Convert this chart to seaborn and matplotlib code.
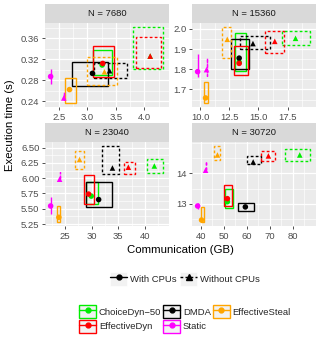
import numpy as np
import pandas as pd
import matplotlib
matplotlib.use("Agg")
import matplotlib.pyplot as plt
import seaborn as sns
from matplotlib.patches import Rectangle
from matplotlib.lines import Line2D
from matplotlib.ticker import AutoMinorLocator
from matplotlib.legend_handler import HandlerTuple

n_procs = [7680, 15360, 23040, 30720]
schedulers = ["ChoiceDyn−50", "DMDA", "EffectiveDyn", "EffectiveSteal", "Static"]
modes = ["With CPUs", "Without CPUs"]

# order per panel: each scheduler, with then without CPUs
comm = [3.26, 4.10, 3.09, 3.39, 3.27, 4.10, 2.69, 3.30, 2.36, 2.59,
        13.35, 18.18, 13.35, 14.53, 13.35, 16.4, 10.47, 12.33, 9.79, 10.55,
        29.9, 41.8, 31.3, 33.9, 29.4, 36.9, 23.8, 27.7, 22.25, 23.94,
        51.6, 83.0, 59.4, 62.8, 51.6, 69.4, 40.4, 47.3, 38.7, 42.15]
comm_lo = [3.10, 3.80, 2.73, 3.11, 3.10, 3.86, 2.61, 2.99, 2.36, 2.59,
           13.0, 16.99, 12.67, 13.43, 12.92, 15.55, 10.3, 11.9, 9.79, 10.55,
           29.0, 40.4, 28.9, 31.9, 28.6, 36.1, 23.5, 26.8, 22.25, 23.94,
           50.7, 76.5, 56.3, 60.0, 50.0, 66.3, 40.0, 46.0, 38.7, 42.15]
comm_hi = [3.44, 4.33, 3.36, 3.69, 3.46, 4.29, 2.80, 3.52, 2.36, 2.59,
           13.94, 19.45, 14.2, 15.97, 14.11, 17.16, 10.64, 12.67, 9.79, 10.55,
           31.2, 43.5, 33.9, 35.1, 30.4, 38.2, 24.1, 28.5, 22.25, 23.94,
           53.9, 87.6, 63.2, 66.3, 53.5, 72.1, 41.3, 48.6, 38.7, 42.15]
exec_time = [0.309, 0.326, 0.293, 0.298, 0.312, 0.326, 0.262, 0.296, 0.287, 0.246,
             1.834, 1.953, 1.855, 1.927, 1.829, 1.938, 1.658, 1.948, 1.788, 1.798,
             5.707, 6.20, 5.65, 6.167, 5.74, 6.18, 5.36, 6.305, 5.545, 5.983,
             13.07, 14.6, 12.9, 14.37, 13.17, 14.57, 12.47, 14.6, 12.93, 14.1]
time_lo = [0.290, 0.301, 0.269, 0.284, 0.287, 0.303, 0.236, 0.271, 0.273, 0.242,
           1.793, 1.922, 1.803, 1.902, 1.772, 1.881, 1.632, 1.855, 1.762, 1.767,
           5.58, 6.08, 5.53, 6.07, 5.58, 6.07, 5.28, 6.156, 5.417, 5.983,
           12.87, 14.4, 12.77, 14.3, 12.93, 14.4, 12.4, 14.43, 12.83, 14.1]
time_hi = [0.338, 0.382, 0.315, 0.313, 0.345, 0.362, 0.284, 0.325, 0.301, 0.258,
           1.979, 1.99, 1.948, 1.964, 1.917, 1.99, 1.736, 2.01, 1.876, 1.855,
           5.93, 6.31, 5.93, 6.53, 6.056, 6.27, 5.54, 6.445, 5.695, 6.10,
           13.5, 14.8, 13.03, 14.57, 13.63, 14.73, 12.9, 14.9, 13.03, 14.4]

xticks = {7680: [2.5, 3.0, 3.5, 4.0], 15360: [10.0, 12.5, 15.0, 17.5],
          23040: [25, 30, 35, 40], 30720: [40, 50, 60, 70, 80]}
yticks = {7680: [0.24, 0.28, 0.32, 0.36], 15360: [1.7, 1.8, 1.9, 2.0],
          23040: [5.25, 5.5, 5.75, 6.0, 6.25, 6.5], 30720: [13, 14]}

pal = {"ChoiceDyn−50": "#00EE00", "DMDA": "black", "EffectiveDyn": "#FF0000",
       "EffectiveSteal": "#FFA500", "Static": "#FF00FF"}

rows = [(n, s, m) for n in n_procs for s in schedulers for m in modes]
df = pd.DataFrame(rows, columns=["N", "sched", "mode"])
df["comm"] = comm
df["comm_lo"] = comm_lo
df["comm_hi"] = comm_hi
df["time"] = exec_time
df["time_lo"] = time_lo
df["time_hi"] = time_hi

sns.set_theme(style="darkgrid", rc={
    "axes.facecolor": "#EBEBEB", "grid.color": "white",
    "xtick.bottom": True, "ytick.left": True,
    "xtick.color": "#333333", "ytick.color": "#333333",
    "xtick.labelcolor": "#4D4D4D", "ytick.labelcolor": "#4D4D4D",
})
plt.rcParams["font.family"] = ["Liberation Sans", "DejaVu Sans"]

W, H = 321, 342
fig = plt.figure(figsize=(W / 100, H / 100), dpi=100)

def box(x0, y0, x1, y1):
    return [x0 / W, 1 - y1 / H, (x1 - x0) / W, (y1 - y0) / H]

panel_px = {7680: (45, 23, 169, 107), 15360: (192, 23, 316, 107),
            23040: (45, 142, 169, 226), 30720: (192, 142, 316, 226)}
dash = (0, (2.0, 1.6))

for n in n_procs:
    x0, y0, x1, y1 = panel_px[n]
    ax = fig.add_axes(box(x0, y0, x1, y1))
    sa = fig.add_axes(box(x0, y0 - 19, x1, y0))
    sa.set_facecolor("#D9D9D9")
    sa.set_xticks([]); sa.set_yticks([])
    for sp in sa.spines.values():
        sp.set_visible(False)
    sa.text(0.5, 0.5, f"N = {n}", ha="center", va="center", size=6.8, color="#1A1A1A")

    sub = df[df.N == n]
    for _, r in sub.iterrows():
        ax.add_patch(Rectangle((r.comm_lo, r.time_lo), r.comm_hi - r.comm_lo,
                               r.time_hi - r.time_lo, fill=False,
                               edgecolor=pal[r.sched], lw=1.0,
                               linestyle="-" if r["mode"] == "With CPUs" else dash,
                               zorder=2))
    sns.scatterplot(data=sub, x="comm", y="time", hue="sched", style="mode",
                    palette=pal, markers={"With CPUs": "o", "Without CPUs": "^"},
                    s=16, linewidth=0, legend=False, ax=ax, zorder=3)
    ax.autoscale_view()
    ax.set_xticks(xticks[n])
    ax.set_yticks(yticks[n])
    ax.xaxis.set_minor_locator(AutoMinorLocator(2))
    ax.yaxis.set_minor_locator(AutoMinorLocator(2))
    ax.grid(which="major", color="white", lw=0.9)
    ax.grid(which="minor", color="white", lw=0.45)
    ax.tick_params(which="major", length=2.5, width=0.6, pad=1.5, labelsize=6.8)
    ax.tick_params(which="minor", length=0)
    ax.set_axisbelow(True)
    for sp in ax.spines.values():
        sp.set_visible(False)
    ax.set_xlabel("")
    ax.set_ylabel("")

fig.text(10 / W, 1 - 125 / H, "Execution time (s)", rotation=90, ha="center",
         va="center", size=8.2, color="black")
fig.text(180 / W, 1 - 250 / H, "Communication (GB)", ha="center", va="center",
         size=8.2, color="black")

key_bg = "#F2F2F2"
overlay = {tuple: HandlerTuple(ndivide=1, pad=0)}
h_mode = [
    (Rectangle((0, 0), 1, 1, facecolor=key_bg, edgecolor="white", lw=0.5),
     Line2D([], [], color="black", lw=1.0, marker="o", markersize=3.5)),
    (Rectangle((0, 0), 1, 1, facecolor=key_bg, edgecolor="white", lw=0.5),
     Line2D([], [], color="black", lw=1.0, linestyle=dash, marker="^", markersize=3.8)),
]
fig.legend(h_mode, modes, loc="center", bbox_to_anchor=(185 / W, 1 - 279 / H),
           ncol=2, frameon=False, fontsize=6.8, handlelength=1.8,
           handleheight=1.8, handletextpad=0.3, columnspacing=0.4,
           handler_map=overlay)

leg_order = ["ChoiceDyn−50", "EffectiveDyn", "DMDA", "Static", "EffectiveSteal"]
h_sched = [(Rectangle((0, 0), 1, 1, facecolor=key_bg, edgecolor=pal[s], lw=1.0),
            Line2D([], [], color=pal[s], lw=1.0, marker="o", markersize=3.5))
           for s in leg_order]
fig.legend(h_sched, leg_order, loc="center", bbox_to_anchor=(185 / W, 1 - 319 / H),
           ncol=3, frameon=False, fontsize=6.8, handlelength=1.8, handleheight=1.8,
           handletextpad=0.3, columnspacing=0.2, labelspacing=0.15,
           handler_map=overlay)

fig.savefig("out.png", dpi=100)
